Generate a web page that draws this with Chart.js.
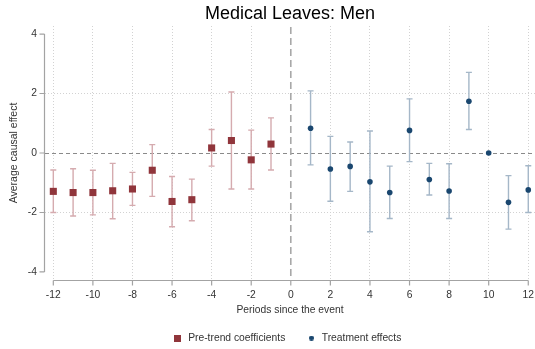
<!DOCTYPE html>
<html>
<head>
<meta charset="utf-8">
<script src="https://cdn.jsdelivr.net/npm/chart.js@4/dist/chart.umd.min.js"></script>
<style>
  html, body { margin: 0; padding: 0; background: #fff; }
  #c { display: block; }
</style>
</head>
<body>
<canvas id="c" width="535" height="349"></canvas>
<script>
// Event-study estimates: periods relative to the event
const prePeriods = [-12, -11, -10, -9, -8, -7, -6, -5, -4, -3, -2, -1];
const preCoef    = [-1.29, -1.33, -1.33, -1.27, -1.21, -0.58, -1.63, -1.57, 0.17, 0.42, -0.23, 0.30];
const preLow     = [-2.00, -2.12, -2.08, -2.21, -1.76, -1.46, -2.48, -2.28, -0.44, -1.21, -1.21, -0.57];
const preHigh    = [-0.57, -0.53, -0.58, -0.35, -0.65, 0.28, -0.79, -0.88, 0.79, 2.05, 0.77, 1.18];

const postPeriods = [1, 2, 3, 4, 5, 6, 7, 8, 9, 10, 11, 12];
const postCoef    = [0.83, -0.54, -0.45, -0.97, -1.33, 0.76, -0.89, -1.28, 1.74, 0.00, -1.66, -1.24];
const postLow     = [-0.40, -1.62, -1.29, -2.65, -2.20, -0.29, -1.41, -2.20, 0.79, 0.00, -2.56, -2.00];
const postHigh    = [2.09, 0.56, 0.37, 0.74, -0.44, 1.82, -0.35, -0.36, 2.71, 0.00, -0.76, -0.43];

const xTickValues = [-12, -10, -8, -6, -4, -2, 0, 2, 4, 6, 8, 10, 12];
const yTickValues = [-4, -2, 0, 2, 4];

const seriesLabels = ['Pre-trend coefficients', 'Treatment effects'];
const chartTitle = 'Medical Leaves: Men';
const xTitle = 'Periods since the event';
const yTitle = 'Average causal effect';

const FONT = "'Liberation Sans', Arial, sans-serif";
const PRE_COLOR = '#90353b', PRE_CI = '#d5abaf';
const POST_COLOR = '#1a476f', POST_CI = '#a5b7c8';
const AXIS_COLOR = '#a3a3a3';
const TEXT_COLOR = '#333333';

function toPoints(xs, ys, lo, hi) {
  return xs.map((x, i) => ({ x: x, y: ys[i], lo: lo[i], hi: hi[i] }));
}

// small marker images for the legend
function legendMarker(kind, size, color) {
  const c = document.createElement('canvas');
  c.width = size; c.height = size;
  const g = c.getContext('2d');
  g.fillStyle = color;
  if (kind === 'rect') {
    g.fillRect(0, 0, size, size);
  } else {
    g.beginPath();
    g.arc(size / 2, size / 2, size / 2, 0, Math.PI * 2);
    g.fill();
  }
  return c;
}

// reference lines, detached axes and confidence intervals
const decorations = {
  id: 'decorations',
  afterLayout(chart) {
    // legend sits slightly left of the plot centre
    if (chart.legend) { chart.legend.left -= 3; chart.legend.right -= 3; }
  },
  beforeDatasetsDraw(chart) {
    const { ctx, chartArea: a, scales: { x, y } } = chart;
    ctx.save();

    // zero effect line
    const y0 = Math.round(y.getPixelForValue(0)) + 0.5;
    ctx.strokeStyle = '#8a8a8a';
    ctx.lineWidth = 1;
    ctx.setLineDash([4, 3]);
    ctx.beginPath(); ctx.moveTo(a.left, y0); ctx.lineTo(a.right, y0); ctx.stroke();

    // event line
    const x0 = x.getPixelForValue(0);
    ctx.strokeStyle = '#a8a8a8';
    ctx.lineWidth = 1.6;
    ctx.setLineDash([7, 4]);
    ctx.beginPath(); ctx.moveTo(x0, a.top + 1); ctx.lineTo(x0, a.bottom); ctx.stroke();
    ctx.setLineDash([]);

    // axis lines spanning the tick range, with outward ticks
    ctx.strokeStyle = AXIS_COLOR;
    ctx.lineWidth = 1.2;
    const ax = a.left - 0.5;
    ctx.beginPath();
    ctx.moveTo(ax, y.getPixelForValue(yTickValues[yTickValues.length - 1]));
    ctx.lineTo(ax, y.getPixelForValue(yTickValues[0]));
    yTickValues.forEach(v => {
      const py = y.getPixelForValue(v);
      ctx.moveTo(ax - 5, py); ctx.lineTo(ax, py);
    });
    const ay = a.bottom + 0.5;
    ctx.moveTo(x.getPixelForValue(xTickValues[0]), ay);
    ctx.lineTo(x.getPixelForValue(xTickValues[xTickValues.length - 1]), ay);
    xTickValues.forEach(v => {
      const px = x.getPixelForValue(v);
      ctx.moveTo(px, ay); ctx.lineTo(px, ay + 5);
    });
    ctx.stroke();

    // confidence intervals with caps
    chart.data.datasets.forEach(ds => {
      ctx.strokeStyle = ds.ciColor;
      ctx.lineWidth = 1.4;
      ds.data.forEach(p => {
        if (p.lo === p.hi) return;
        const px = x.getPixelForValue(p.x);
        const pl = y.getPixelForValue(p.lo);
        const ph = y.getPixelForValue(p.hi);
        ctx.beginPath();
        ctx.moveTo(px, pl); ctx.lineTo(px, ph);
        ctx.moveTo(px - 3, pl); ctx.lineTo(px + 3, pl);
        ctx.moveTo(px - 3, ph); ctx.lineTo(px + 3, ph);
        ctx.stroke();
      });
    });
    ctx.restore();
  }
};

const legendMarkers = [legendMarker('rect', 7, PRE_COLOR), legendMarker('circle', 5, POST_COLOR)];

new Chart(document.getElementById('c'), {
  type: 'scatter',
  data: {
    datasets: [
      {
        label: seriesLabels[0],
        data: toPoints(prePeriods, preCoef, preLow, preHigh),
        pointStyle: 'rect',
        pointRadius: 5,
        pointHoverRadius: 5,
        backgroundColor: PRE_COLOR,
        borderColor: PRE_COLOR,
        borderWidth: 0,
        ciColor: PRE_CI
      },
      {
        label: seriesLabels[1],
        data: toPoints(postPeriods, postCoef, postLow, postHigh),
        pointStyle: 'circle',
        pointRadius: 2.8,
        pointHoverRadius: 2.8,
        backgroundColor: POST_COLOR,
        borderColor: POST_COLOR,
        borderWidth: 0,
        ciColor: POST_CI
      }
    ]
  },
  options: {
    responsive: false,
    animation: false,
    devicePixelRatio: 1,
    events: [],
    layout: { autoPadding: false, padding: { top: 0, left: 0, right: 0, bottom: -4.15 } },
    plugins: {
      title: {
        display: true,
        text: chartTitle,
        color: '#000',
        fullSize: false,
        font: { family: FONT, size: 18, weight: 'normal' },
        padding: { top: 3.7, bottom: 0.7 }
      },
      legend: {
        position: 'bottom',
        fullSize: false,
        labels: {
          usePointStyle: true,
          padding: 21,
          color: TEXT_COLOR,
          font: { family: FONT, size: 10.3 },
          generateLabels(chart) {
            return chart.data.datasets.map((ds, i) => ({
              text: ds.label,
              pointStyle: legendMarkers[i],
              fillStyle: ds.backgroundColor,
              strokeStyle: ds.backgroundColor,
              lineWidth: 0,
              hidden: false,
              datasetIndex: i,
              fontColor: TEXT_COLOR
            }));
          }
        }
      },
      tooltip: { enabled: false }
    },
    scales: {
      x: {
        type: 'linear',
        min: -12.42,
        max: 12.34,
        afterBuildTicks(s) { s.ticks = xTickValues.map(v => ({ value: v })); },
        afterFit(s) { s.height = 31.85; s.paddingLeft = 0; s.paddingRight = 0; },
        ticks: { padding: 9, color: TEXT_COLOR, autoSkip: false, maxRotation: 0, font: { family: FONT, size: 10.3 } },
        grid: {
          drawTicks: false,
          lineWidth: 1,
          color: c => (c.tick && c.tick.value !== 0) ? '#d2d2d2' : 'rgba(0,0,0,0)'
        },
        border: { display: false, dash: [1, 2] },
        title: {
          display: true,
          text: xTitle,
          color: TEXT_COLOR,
          font: { family: FONT, size: 10.3 },
          padding: { top: 0, bottom: -4.3 }
        }
      },
      y: {
        type: 'linear',
        min: -4.27,
        max: 4.27,
        afterBuildTicks(s) { s.ticks = yTickValues.map(v => ({ value: v })); },
        afterFit(s) { s.width = 45; s.paddingTop = 0; s.paddingBottom = 0; },
        ticks: { padding: 8, color: TEXT_COLOR, font: { family: FONT, size: 10.3 } },
        grid: {
          drawTicks: false,
          lineWidth: 1,
          color: c => (c.tick && Math.abs(c.tick.value) === 2) ? '#d2d2d2' : 'rgba(0,0,0,0)'
        },
        border: { display: false, dash: [1, 2] },
        title: {
          display: true,
          text: yTitle,
          color: TEXT_COLOR,
          font: { family: FONT, size: 10.5 },
          padding: { top: 7.7, bottom: 0 }
        }
      }
    }
  },
  plugins: [decorations]
});
</script>
</body>
</html>
